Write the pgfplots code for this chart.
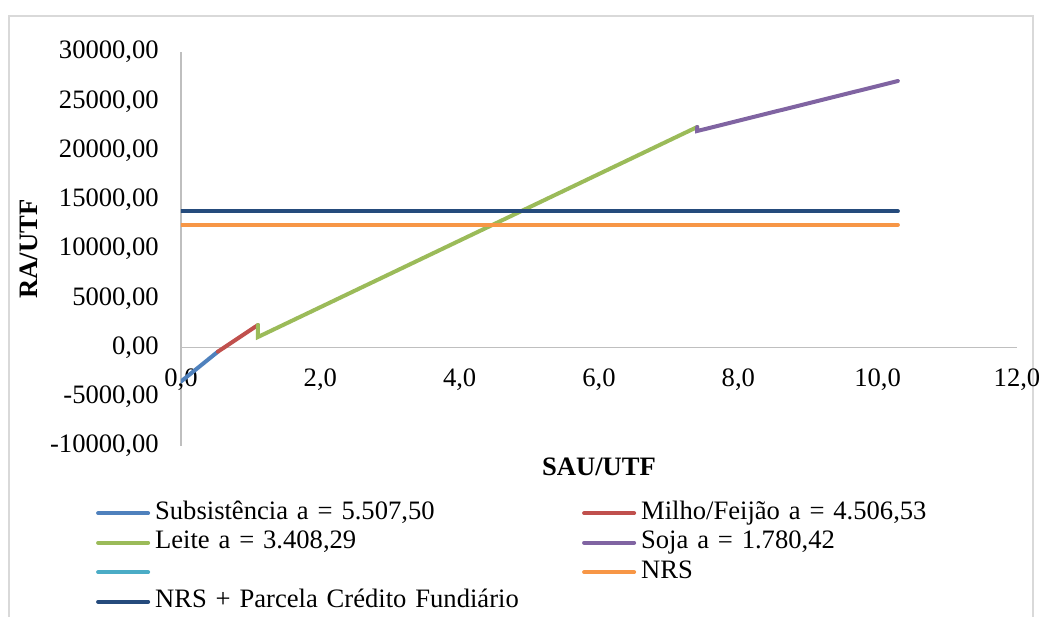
\documentclass[border=0pt]{standalone}
\usepackage{fontspec}
\setmainfont{Liberation Serif}
\usepackage{pgfplots}
\pgfplotsset{compat=1.18}
\definecolor{cBlue}{HTML}{4F81BD}
\definecolor{cRed}{HTML}{C0504D}
\definecolor{cGreen}{HTML}{9BBB59}
\definecolor{cPurple}{HTML}{8064A2}
\definecolor{cCyan}{HTML}{4BACC6}
\definecolor{cOrange}{HTML}{F79646}
\definecolor{cNavy}{HTML}{254B7C}
\definecolor{axisGray}{HTML}{BFBFBF}
\definecolor{borderGray}{HTML}{D9D9D9}
\begin{document}
\begin{tikzpicture}[font=\fontsize{13.3}{16}\selectfont]
\useasboundingbox (0,0) rectangle (520.5pt,308.5pt);
\draw[color=borderGray, line width=0.7pt] (4.5pt,-5pt) -- (4.5pt,300.5pt) -- (516.5pt,300.5pt) -- (516.5pt,-5pt);
\begin{axis}[
  at={(90.5pt,85.5pt)}, anchor=south west,
  scale only axis, width=418pt, height=197pt,
  xmin=0, xmax=12, ymin=-10000, ymax=30000,
  axis x line*=middle, axis y line*=left,
  axis line style={draw=axisGray, line width=0.7pt},
  hide obscured x ticks=false, hide obscured y ticks=false,
  xtick={0,2,4,6,8,10,12},
  ytick={-10000,-5000,0,5000,10000,15000,20000,25000,30000},
  major tick length=0pt,
  scaled x ticks=false, scaled y ticks=false,
  /pgf/number format/assume math mode=true,
  xticklabel style={/pgf/number format/.cd, fixed, fixed zerofill, precision=1, use comma, 1000 sep={}, /tikz/.cd, yshift=-7pt},
  yticklabel style={/pgf/number format/.cd, fixed, fixed zerofill, precision=2, use comma, 1000 sep={}, /tikz/.cd, xshift=-7.6pt},
  xlabel={\bfseries SAU/UTF},
  ylabel={\bfseries RA/UTF},
  xlabel style={at={(axis description cs:0.5,-0.053)}, anchor=center},
  ylabel style={at={(axis description cs:-0.182,0.5)}, anchor=center, rotate=0},
  legend columns=2,
  legend cell align=left,
  legend style={at={(axis description cs:-0.102,-0.132)}, anchor=north west, draw=none, fill=none, inner sep=0pt,
    nodes={inner xsep=2.5pt, inner ysep=0pt, text height=10.5pt, text depth=4.25pt, text width=211pt, align=left}},
  legend image code/.code={\draw[#1, line width=2pt] (0pt,0pt) -- (25pt,0pt);},
  every axis plot/.append style={line width=2pt, line cap=round, line join=miter, mark=none},
]
\addplot[color=cBlue] coordinates {(0,-3450) (0.53,-420)};
\addlegendentry{Subsistência a = 5.507,50}
\addplot[color=cRed] coordinates {(0.53,-420) (1.105,2284)};
\addlegendentry{Milho/Feijão a = 4.506,53}
\addplot[color=cGreen] coordinates {(1.105,2284) (1.105,1066) (7.41,22386)};
\addlegendentry{Leite a = 3.408,29}
\addplot[color=cPurple] coordinates {(7.41,22386) (7.41,21980) (10.29,27056)};
\addlegendentry{Soja a = 1.780,42}
\addlegendimage{color=cCyan, line width=2pt}
\addlegendentry{}
\addplot[color=cOrange] coordinates {(0,12467) (10.29,12467)};
\addlegendentry{NRS}
\addplot[color=cNavy] coordinates {(0,13827) (10.29,13827)};
\addlegendentry{NRS + Parcela Crédito Fundiário}
\end{axis}
\end{tikzpicture}
\end{document}
